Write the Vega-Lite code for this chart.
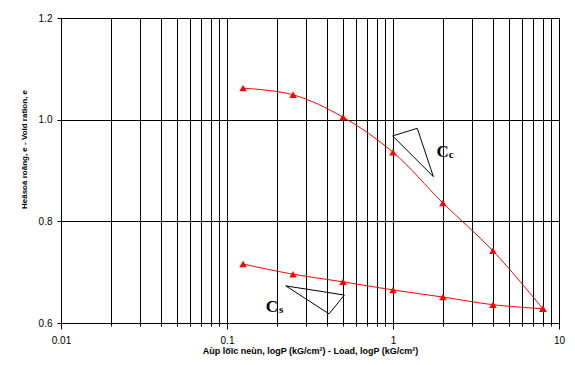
{
  "$schema": "https://vega.github.io/schema/vega-lite/v6.json",
  "width": 498,
  "height": 305,
  "autosize": {"type": "none"},
  "padding": {"left": 61, "top": 18, "right": 16, "bottom": 42},
  "background": "white",
  "config": {"view": {"stroke": "black", "strokeWidth": 1}, "font": "Liberation Sans"},
  "datasets": {
    "curves": [
      {"series": "upper", "p": 0.125, "e": 1.062},
      {"series": "upper", "p": 0.25, "e": 1.049},
      {"series": "upper", "p": 0.5, "e": 1.005},
      {"series": "upper", "p": 1, "e": 0.936},
      {"series": "upper", "p": 2, "e": 0.836},
      {"series": "upper", "p": 4, "e": 0.742},
      {"series": "upper", "p": 8, "e": 0.628},
      {"series": "lower", "p": 0.125, "e": 0.716},
      {"series": "lower", "p": 0.25, "e": 0.696},
      {"series": "lower", "p": 0.5, "e": 0.681},
      {"series": "lower", "p": 1, "e": 0.665},
      {"series": "lower", "p": 2, "e": 0.651},
      {"series": "lower", "p": 4, "e": 0.636},
      {"series": "lower", "p": 8, "e": 0.628}
    ],
    "tri": [
      {"tri": "Cc", "ord": 1, "p": 0.995, "e": 0.968},
      {"tri": "Cc", "ord": 2, "p": 1.40, "e": 0.983},
      {"tri": "Cc", "ord": 3, "p": 1.75, "e": 0.888},
      {"tri": "Cc", "ord": 4, "p": 0.995, "e": 0.968},
      {"tri": "Cs", "ord": 1, "p": 0.226, "e": 0.673},
      {"tri": "Cs", "ord": 2, "p": 0.509, "e": 0.655},
      {"tri": "Cs", "ord": 3, "p": 0.412, "e": 0.618},
      {"tri": "Cs", "ord": 4, "p": 0.226, "e": 0.673}
    ],
    "labels": [
      {"p": 1.99, "e": 0.927, "t": "C", "kind": "main"},
      {"p": 2.17, "e": 0.924, "t": "c", "kind": "sub"},
      {"p": 0.1866, "e": 0.622, "t": "C", "kind": "main"},
      {"p": 0.2058, "e": 0.620, "t": "s", "kind": "sub"}
    ]
  },
  "encoding": {
    "x": {
      "field": "p",
      "type": "quantitative",
      "scale": {"type": "log", "domain": [0.01, 10], "nice": false},
      "axis": {
        "values": [0.01, 0.02, 0.03, 0.04, 0.05, 0.06, 0.07, 0.08, 0.09, 0.1, 0.2, 0.3, 0.4, 0.5, 0.6, 0.7, 0.8, 0.9, 1, 2, 3, 4, 5, 6, 7, 8, 9, 10],
        "format": "~g",
        "labelExpr": "abs(log(datum.value)/LN10 - round(log(datum.value)/LN10)) < 0.001 ? datum.label : ''",
        "grid": true,
        "gridColor": "black",
        "gridOpacity": 1,
        "domain": false,
        "tickColor": "black",
        "tickSize": {"condition": {"test": "abs(log(datum.value)/LN10 - round(log(datum.value)/LN10)) < 0.001", "value": 6}, "value": 3},
        "labelPadding": 6,
        "labelFontSize": 10,
        "labelColor": "black",
        "labelFlush": false,
        "labelOverlap": false,
        "title": "Aùp löïc neùn, logP (kG/cm²) - Load, logP (kG/cm²)",
        "titleFontSize": 9,
        "titleFontWeight": "bold",
        "titleColor": "black",
        "titlePadding": 1
      }
    },
    "y": {
      "field": "e",
      "type": "quantitative",
      "scale": {"domain": [0.6, 1.2], "nice": false, "zero": false},
      "axis": {
        "values": [0.6, 0.8, 1.0, 1.2],
        "format": ".1f",
        "grid": true,
        "gridColor": "black",
        "gridOpacity": 1,
        "domain": false,
        "tickColor": "black",
        "tickSize": 4,
        "labelPadding": 5,
        "labelFontSize": 10,
        "labelColor": "black",
        "labelFlush": false,
        "title": "Heäsoá roãng, e - Void ration, e",
        "titleFontSize": 8,
        "titleFontWeight": "bold",
        "titleColor": "black",
        "titlePadding": 10,
        "titleY": 131
      }
    }
  },
  "layer": [
    {
      "data": {"name": "curves"},
      "mark": {"type": "line", "color": "#ff0000", "strokeWidth": 1, "interpolate": "catmull-rom"},
      "encoding": {"detail": {"field": "series"}}
    },
    {
      "data": {"name": "curves"},
      "mark": {"type": "point", "shape": "triangle-up", "filled": true, "color": "#ff0000", "size": 55, "opacity": 1}
    },
    {
      "data": {"name": "tri"},
      "mark": {"type": "line", "color": "black", "strokeWidth": 1},
      "encoding": {"detail": {"field": "tri"}, "order": {"field": "ord"}}
    },
    {
      "data": {"name": "labels"},
      "transform": [{"filter": "datum.kind === 'main'"}],
      "mark": {"type": "text", "font": "Liberation Serif", "fontSize": 17, "fontWeight": "bold", "align": "center", "baseline": "alphabetic", "color": "black"},
      "encoding": {"text": {"field": "t"}}
    },
    {
      "data": {"name": "labels"},
      "transform": [{"filter": "datum.kind === 'sub'"}],
      "mark": {"type": "text", "font": "Liberation Serif", "fontSize": 11, "fontWeight": "bold", "align": "left", "baseline": "alphabetic", "color": "black"},
      "encoding": {"text": {"field": "t"}}
    }
  ]
}
